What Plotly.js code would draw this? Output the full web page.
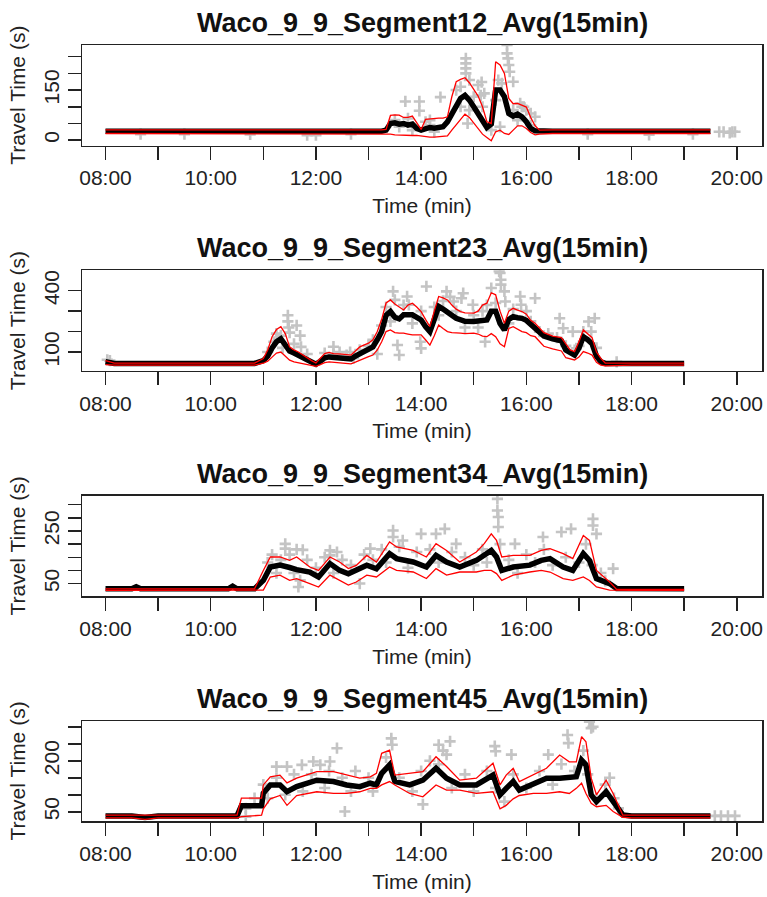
<!DOCTYPE html>
<html>
<head>
<meta charset="utf-8">
<script src="https://cdn.plot.ly/plotly-3.0.1.min.js"></script>
<style>html,body{margin:0;padding:0;background:#fff;}#chart{width:767px;height:897px;}</style>
</head>
<body>
<div id="chart"></div>
<script>
// ---------------- DATA ----------------
const titles = ["Waco_9_9_Segment12_Avg(15min)","Waco_9_9_Segment23_Avg(15min)","Waco_9_9_Segment34_Avg(15min)","Waco_9_9_Segment45_Avg(15min)"];
const xTickHours = ["08:00","09:00","10:00","11:00","12:00","13:00","14:00","15:00","16:00","17:00","18:00","19:00","20:00"];
const xTickText  = ["08:00","","10:00","","12:00","","14:00","","16:00","","18:00","","20:00"];
const xTitle = "Time (min)";
const yTitle = "Travel Time (s)";

// Segment12
const t1 = ["08:00","08:30","09:00","09:30","10:00","10:30","11:00","11:30","12:00","12:30","13:00","13:15","13:20","13:25","13:30","13:35","13:40","13:45","13:50","13:55","14:00","14:05","14:10","14:15","14:20","14:25","14:30","14:35","14:40","14:45","14:50","14:55","15:00","15:05","15:10","15:15","15:20","15:25","15:30","15:35","15:40","15:45","15:50","15:55","16:00","16:05","16:10","16:15","16:20","16:30","17:00","17:30","18:00","18:30","19:00","19:30"];
const avg1 = [27,26,27,27,27,27,27,27,25,27,27,27,30,50,52,48,50,45,48,35,30,36,38,36,36,40,55,80,105,125,134,120,100,80,60,38,48,150,150,130,80,72,78,70,55,35,28,27,27,27,27,27,27,27,27,27];
const up1  = [31,30,31,31,31,31,31,31,29,31,31,31,32,74,76,75,68,68,72,50,32,62,64,64,66,66,70,130,175,182,187,172,152,132,100,55,50,235,225,200,125,109,110,105,99,68,43,30,31,31,31,31,31,31,31,31];
const lo1  = [20,20,20,20,20,20,20,20,18,20,20,20,20,18,16,15,15,14,14,14,12,10,9,9,10,12,13,30,46,65,78,68,52,33,18,8,-2,25,30,20,17,30,43,43,35,23,16,18,19,20,20,20,20,20,20,20];
const gT1 = ["13:42","13:58","13:58","14:05","14:10","14:22","14:51","14:51","14:51","14:51","14:53","14:55","15:05","15:08","15:09","15:30","15:38","15:38","15:39","15:40","15:41","15:45","15:53","15:57","16:05","16:10","19:40","19:45","19:52","19:55","19:58","12:00","08:40",
  "13:30","13:35","13:45","13:50","14:10","14:15","14:40","14:45","14:45","14:55","15:00","15:10","15:12","15:20","15:25","15:28","15:32","15:45","15:50","15:55","16:00","16:05","09:30","10:45","11:50","12:40","17:10","18:20","19:10"];
const gV1 = [116,116,88,55,45,129,245,230,215,200,50,180,165,134,174,40,285,260,245,225,205,175,110,100,80,70,25,25,22,25,25,15,18,
  60,40,65,30,60,25,150,100,160,90,130,100,140,30,120,180,170,90,60,100,90,45,18,17,15,18,18,16,18];

// Segment23
const t2 = ["08:00","08:10","08:30","09:00","09:30","10:00","10:30","10:50","11:00","11:05","11:10","11:15","11:20","11:25","11:30","11:35","11:40","11:45","11:50","11:55","12:00","12:05","12:10","12:15","12:20","12:30","12:40","12:45","12:50","13:00","13:05","13:10","13:15","13:20","13:25","13:30","13:35","13:40","13:45","13:50","13:55","14:00","14:05","14:10","14:15","14:20","14:25","14:30","14:35","14:40","14:45","14:50","15:00","15:05","15:10","15:15","15:20","15:25","15:30","15:35","15:40","15:45","15:50","15:55","16:00","16:05","16:10","16:20","16:30","16:40","16:45","16:50","16:55","17:00","17:05","17:10","17:15","17:20","17:25","17:30","18:00","18:30","19:00"];
const avg2 = [52,44,44,44,44,44,44,44,58,80,120,150,165,140,105,95,85,72,62,52,40,55,72,76,74,70,66,80,92,110,125,160,200,280,298,270,262,282,280,282,270,257,225,200,260,323,310,298,280,265,257,250,249,250,255,257,300,300,240,208,260,273,268,265,255,235,220,178,165,155,110,95,85,120,175,160,140,80,52,44,44,44,44];
const up2  = [58,46,46,46,46,46,46,46,68,110,175,210,224,190,125,110,100,85,70,58,46,70,92,98,92,90,85,105,125,143,160,200,260,340,355,335,320,306,330,339,320,298,260,224,300,372,365,355,330,310,298,292,290,300,330,339,390,380,300,241,300,314,305,298,285,255,241,195,178,170,140,110,102,150,208,190,170,100,69,46,46,46,46];
const lo2  = [38,36,36,36,36,36,36,36,45,55,75,95,100,80,60,52,48,44,41,36,30,38,48,52,50,44,42,50,60,77,85,110,150,200,208,195,192,192,188,184,184,184,160,134,180,232,215,200,195,192,192,190,192,188,178,175,190,175,140,126,215,224,210,200,195,180,175,128,115,105,72,65,61,75,102,95,85,50,36,32,36,36,36];
const gT2 = ["08:02","08:05","11:28","11:28","11:29","11:30","11:38","11:42","11:43","12:20","12:27","12:39","12:43","13:28","13:30","13:33","13:35","13:44","13:46","13:59","14:00","14:06","14:29","14:33","14:37","14:46","14:48","14:59","15:13","15:20","15:29","15:30","15:31","15:31","15:35","15:36","15:53","15:54","16:10","16:38","16:42","16:53","16:57","17:11","17:14","17:18","17:43",
  "11:05","11:12","11:15","11:20","11:22","11:35","11:50","12:10","12:20","12:35","12:50","13:00","13:05","13:10","13:15","13:20","13:25","13:40","13:50","14:00","14:15","14:20","14:25","14:40","14:50","15:00","15:05","15:10","15:15","15:25","15:40","15:45","16:00","16:05","16:15","16:25","16:35","16:45","17:00","17:05","17:20"];
const gV2 = [62,58,280,250,220,195,230,180,125,126,100,100,70,397,355,134,85,372,331,150,118,421,397,370,347,363,388,331,150,413,495,487,454,430,397,347,372,331,363,265,216,200,118,249,200,265,52,
  100,150,190,180,120,140,90,95,90,85,110,130,160,90,230,320,250,330,240,300,320,280,350,300,220,280,220,300,330,340,240,310,300,250,200,190,170,130,130,200,120];

// Segment34
const t3 = ["08:00","08:30","08:35","08:40","09:00","09:30","10:00","10:20","10:25","10:30","10:50","11:00","11:08","11:19","11:30","11:38","11:53","12:03","12:16","12:27","12:37","12:46","12:58","13:09","13:24","13:32","13:51","14:06","14:17","14:29","14:44","15:03","15:12","15:20","15:26","15:32","15:45","16:04","16:17","16:27","16:42","16:53","17:05","17:12","17:20","17:35","17:43","18:00","18:30","19:00"];
const avg3 = [30,30,38,30,30,30,30,30,40,30,30,62,113,120,111,103,94,75,126,100,87,100,120,106,164,145,132,113,157,132,113,138,157,176,151,100,113,120,138,145,113,100,164,138,69,50,31,30,30,30];
const up3  = [30,30,32,30,30,30,30,30,32,30,30,100,151,151,138,151,113,100,151,132,107,119,157,132,208,189,176,151,202,176,132,170,202,239,214,151,157,157,176,183,164,145,233,214,100,56,28,28,28,28];
const lo3  = [24,24,24,24,24,24,24,24,24,24,24,25,75,82,62,69,50,37,82,62,44,56,82,75,113,100,94,69,107,82,94,94,100,100,88,62,82,94,100,94,69,62,75,62,37,25,24,24,24,24];
const gT3 = ["11:25","11:25","11:38","11:42","11:45","11:40","12:16","12:16","12:24","12:50","13:02","13:28","13:28","13:39","14:00","14:17","14:27","14:40","15:27","15:27","15:28","15:28","15:47","16:19","16:40","16:51","17:16","17:16","17:20","17:39",
  "11:05","11:10","11:15","11:20","11:30","11:35","11:50","12:00","12:10","12:20","12:30","12:40","12:55","13:05","13:15","13:20","13:35","13:45","13:55","14:10","14:20","14:35","14:50","15:00","15:10","15:15","15:30","15:40","15:50","16:00","16:10","16:20","16:30","16:45","17:00","17:08","17:15","17:25","17:30"];
const gV3 = [201,183,180,62,178,37,176,157,170,50,183,252,227,214,239,239,258,201,372,328,303,265,201,227,246,258,296,271,239,107,
  130,160,90,140,160,90,140,110,150,90,140,120,160,140,180,130,190,110,170,180,130,170,150,120,180,130,200,140,90,160,130,180,120,150,130,200,120,90,60];

// Segment45
const t4 = ["08:00","08:30","08:45","09:00","09:30","10:00","10:30","10:35","10:58","11:00","11:08","11:19","11:27","11:38","11:49","12:01","12:20","12:35","12:50","13:02","13:09","13:15","13:24","13:30","13:47","14:02","14:17","14:29","14:44","15:03","15:22","15:30","15:37","15:45","15:52","16:08","16:23","16:38","16:49","16:57","17:03","17:08","17:14","17:20","17:31","17:39","17:50","18:00","18:30","19:00","19:30"];
const avg4 = [38,38,33,38,38,38,38,68,68,105,129,129,109,124,134,143,139,129,124,134,129,163,188,139,129,143,178,149,129,129,158,100,119,139,114,134,149,149,153,153,202,188,100,80,109,80,41,38,38,38,38];
const up4  = [40,40,40,40,40,40,40,90,90,129,153,158,135,149,158,168,168,158,149,153,163,222,231,158,163,168,212,183,143,149,193,129,158,178,139,158,178,217,197,197,271,256,149,100,143,104,40,40,40,40,40];
const lo4  = [32,32,28,32,32,32,32,36,40,59,88,98,69,98,104,109,104,104,109,119,119,129,139,129,104,94,129,114,114,104,109,59,69,88,98,104,104,109,104,119,134,104,75,65,69,51,34,32,32,32,32];
const gT4 = ["10:40","11:15","11:27","11:44","11:57","12:05","12:16","12:24","12:33","13:26","13:27","14:02","14:20","14:25","14:29","14:33","15:24","15:25","15:43","16:25","16:47","16:48","17:12","17:14","17:16","17:35","19:35","19:42","19:50","19:58",
  "10:40","10:50","11:00","11:05","11:15","11:25","11:35","11:45","11:55","12:10","12:15","12:30","12:40","12:45","13:00","13:05","13:20","13:35","13:50","14:00","14:10","14:20","14:35","14:50","15:00","15:15","15:25","15:35","15:45","16:00","16:15","16:30","16:40","16:55","17:05","17:10","17:20","17:30","17:40","17:45"];
const gV4 = [36,183,183,188,198,188,198,237,51,266,247,72,247,230,218,257,243,228,218,218,276,252,315,296,300,150,38,38,38,38,
  60,90,130,90,150,100,160,110,160,120,170,150,110,170,150,110,210,150,110,170,200,190,120,160,110,170,120,80,160,120,170,130,190,170,230,160,90,130,90,60];

const yTickVals = [[0,50,100,150,200,250],[100,200,300,400],[50,100,150,200,250,300,350],[50,100,150,200,250,300]];
const yTickText = [["0","","","150","",""],["100","","","400"],["50","","","","250","",""],["50","","","200","",""]];
const yRanges = [[-16,285],[8,500],[2,384],[23,317]];

// ---------------- BUILD ----------------
const day = "2000-01-01 ";
const toX = a => a.map(s => day + s);
function hToStr(h){ const tot=Math.round(h*3600); const hh=Math.floor(tot/3600), mm=Math.floor((tot%3600)/60), ss=tot%60; const p=n=>String(n).padStart(2,'0'); return day+p(hh)+":"+p(mm)+":"+p(ss);}

const panels = [
  {t:t1,a:avg1,u:up1,l:lo1,gt:gT1,gv:gV1},
  {t:t2,a:avg2,u:up2,l:lo2,gt:gT2,gv:gV2},
  {t:t3,a:avg3,u:up3,l:lo3,gt:gT3,gv:gV3},
  {t:t4,a:avg4,u:up4,l:lo4,gt:gT4,gv:gV4}
];

const W=767,H=897, mL=82, mR=5, mT=45, mB=76;
const plotH = H - mT - mB;
const boxTop = [45, 270.3, 495.7, 721], boxH = 100.5;
const font = "Liberation Sans, Arial, sans-serif";
const pyFrac = px => (H - mB - px)/plotH;

const traces=[]; const layout={
  width:W,height:H, margin:{l:mL,r:mR,t:mT,b:mB}, paper_bgcolor:'#fff', plot_bgcolor:'#fff',
  showlegend:false, font:{family:font,size:21,color:'#222'}, annotations:[]
};

panels.forEach((p,i)=>{
  const xa = i===0?'x':'x'+(i+1), ya = i===0?'y':'y'+(i+1);
  const X = toX(p.t);
  traces.push({x:toX(p.gt), y:p.gv, type:'scatter', mode:'markers', xaxis:xa, yaxis:ya,
    marker:{symbol:'cross-thin-open', size:8, color:'#c4c4c4', line:{color:'#c4c4c4', width:2.6}}, hoverinfo:'skip'});
  traces.push({x:X, y:p.a, type:'scatter', mode:'lines', xaxis:xa, yaxis:ya,
    line:{color:'#000', width:5.5}});
  traces.push({x:X, y:p.u, type:'scatter', mode:'lines', xaxis:xa, yaxis:ya,
    line:{color:'#ff0000', width:1.3}});
  traces.push({x:X, y:p.l, type:'scatter', mode:'lines', xaxis:xa, yaxis:ya,
    line:{color:'#ff0000', width:1.3}});

  const bottom = Math.max(0, pyFrac(boxTop[i]+boxH));
  const top = pyFrac(boxTop[i]);
  const axX = 'xaxis'+(i===0?'':(i+1)), axY = 'yaxis'+(i===0?'':(i+1));
  layout[axX] = {
    type:'date', domain:[0,1], anchor:ya, range:[hToStr(7.553), hToStr(20.48)],
    tickmode:'array', tickvals:toX(xTickHours), ticktext:xTickText,
    ticks:'outside', ticklen:13, tickwidth:1.5, tickcolor:'#222',
    showline:true, mirror:true, linecolor:'#222', linewidth:1.5,
    showgrid:false, zeroline:false, tickfont:{family:font,size:21,color:'#222'},
    title:{text:xTitle, font:{family:font,size:21,color:'#222'}, standoff:10}, automargin:false
  };
  layout[axY] = {
    domain:[bottom, top], anchor:xa, range:yRanges[i],
    tickmode:'array', tickvals:yTickVals[i], ticktext:yTickText[i], tickangle:-90,
    ticks:'outside', ticklen:13, tickwidth:1.5, tickcolor:'#222',
    showline:true, mirror:true, linecolor:'#222', linewidth:1.5,
    showgrid:false, zeroline:false, tickfont:{family:font,size:21,color:'#222'},
    title:{text:yTitle, font:{family:font,size:21,color:'#222'}, standoff:8}, automargin:false
  };
  layout.annotations.push({text:'<b>'+titles[i]+'</b>', xref:'paper', yref:'paper', x:0.5, y:pyFrac(boxTop[i]-22),
    xanchor:'center', yanchor:'middle', showarrow:false, font:{family:font,size:27,color:'#111'}});
});

Plotly.newPlot('chart', traces, layout, {staticPlot:true, displayModeBar:false});
</script>
</body>
</html>
